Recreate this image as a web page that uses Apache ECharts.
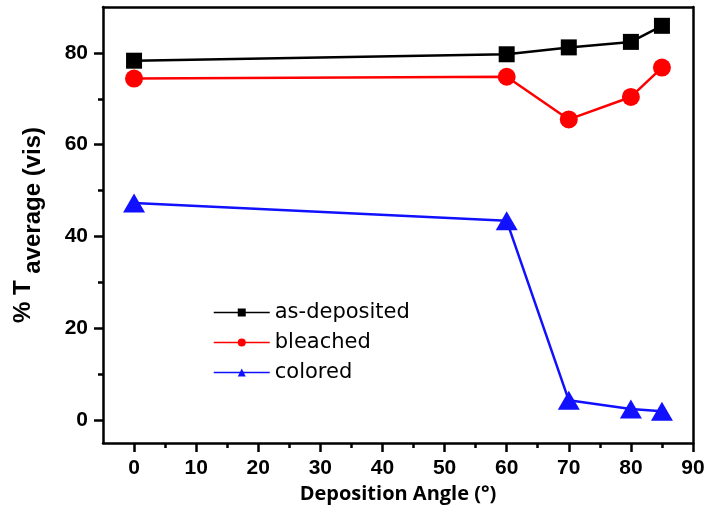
<!DOCTYPE html>
<html>
<head>
<meta charset="utf-8">
<script src="https://cdn.jsdelivr.net/npm/echarts@6/dist/echarts.min.js"></script>
<style>
html,body{margin:0;padding:0;background:#fff;}
#c{width:708px;height:508px;}
</style>
</head>
<body>
<div id="c"></div>
<script>
// Data
const angles = [0, 60, 70, 80, 85];
const asDeposited = [78.3, 79.7, 81.2, 82.4, 85.9];
const bleached = [74.4, 74.8, 65.5, 70.4, 76.8];
const colored = [47.3, 43.4, 4.3, 2.4, 1.9];
const seriesNames = ['as-deposited', 'bleached', 'colored'];
const xMajorTicks = [0, 10, 20, 30, 40, 50, 60, 70, 80, 90];
const xMinorTicks = [5, 15, 25, 35, 45, 55, 65, 75, 85];
const yMajorTicks = [0, 20, 40, 60, 80];
const yMinorTicks = [10, 30, 50, 70];

const pair = (xs, ys) => xs.map((x, i) => [x, ys[i]]);

const AX = '#000';
const LW = 2.5;
const labelFont = { fontFamily: 'Liberation Sans, Arial', fontWeight: 'bold', fontSize: 21, color: '#000' };

const chart = echarts.init(document.getElementById('c'), null, { renderer: 'canvas' });
chart.setOption({
  backgroundColor: '#fff',
  animation: false,
  grid: { left: 103, right: 15, top: 7, bottom: 65, containLabel: false, outerBoundsMode: 'none' },
  legend: {
    data: seriesNames,
    orient: 'vertical',
    left: 208,
    top: 297,
    itemWidth: 56,
    itemHeight: 10,
    itemGap: 9,
    lineStyle: { width: 1.5 },
    textStyle: { fontFamily: 'DejaVu Sans', fontSize: 21, color: '#000', lineHeight: 20 }
  },
  xAxis: [
    {
      type: 'value', position: 'bottom', min: -5, max: 90,
      splitLine: { show: false },
      axisLine: { show: true, onZero: false, lineStyle: { color: AX, width: LW } },
      axisTick: { show: true, length: 9, lineStyle: { color: AX, width: LW }, customValues: xMajorTicks },
      axisLabel: Object.assign({ margin: 15, customValues: xMajorTicks }, labelFont),
      name: 'Deposition Angle (°)',
      nameLocation: 'middle',
      nameGap: 33,
      nameTextStyle: { fontFamily: 'Open Sans', fontWeight: 'bold', fontSize: 20, color: '#000' }
    },
    {
      type: 'value', position: 'bottom', min: -5, max: 90,
      splitLine: { show: false },
      axisLine: { show: false, onZero: false },
      axisTick: { show: true, length: 5, lineStyle: { color: AX, width: LW }, customValues: xMinorTicks },
      axisLabel: { show: false }
    },
    {
      type: 'value', position: 'top', min: -5, max: 90,
      splitLine: { show: false },
      axisLine: { show: true, onZero: false, lineStyle: { color: AX, width: LW } },
      axisTick: { show: false },
      axisLabel: { show: false }
    }
  ],
  yAxis: [
    {
      type: 'value', position: 'left', min: -5, max: 90,
      splitLine: { show: false },
      axisLine: { show: true, onZero: false, lineStyle: { color: AX, width: LW } },
      axisTick: { show: true, length: 9, lineStyle: { color: AX, width: LW }, customValues: yMajorTicks },
      axisLabel: Object.assign({ margin: 15, customValues: yMajorTicks }, labelFont),
      name: '{a|% T }{b|average (vis)}',
      nameLocation: 'middle',
      nameRotate: 90,
      nameGap: 48,
      nameTextStyle: {
        color: '#000',
        rich: {
          a: { fontFamily: 'Liberation Sans, Arial', fontWeight: 'bold', fontSize: 24, color: '#000', verticalAlign: 'top', lineHeight: 24 },
          b: { fontFamily: 'Liberation Sans, Arial', fontWeight: 'bold', fontSize: 24, color: '#000', verticalAlign: 'middle', lineHeight: 44 }
        }
      }
    },
    {
      type: 'value', position: 'left', min: -5, max: 90,
      splitLine: { show: false },
      axisLine: { show: false, onZero: false },
      axisTick: { show: true, length: 5, lineStyle: { color: AX, width: LW }, customValues: yMinorTicks },
      axisLabel: { show: false }
    },
    {
      type: 'value', position: 'right', min: -5, max: 90,
      splitLine: { show: false },
      axisLine: { show: true, onZero: false, lineStyle: { color: AX, width: LW } },
      axisTick: { show: false },
      axisLabel: { show: false }
    }
  ],
  series: [
    {
      name: seriesNames[0], type: 'line', xAxisIndex: 0, yAxisIndex: 0,
      data: pair(angles, asDeposited),
      symbol: 'rect', symbolSize: 16,
      lineStyle: { color: '#000', width: 2.5 },
      itemStyle: { color: '#000' }
    },
    {
      name: seriesNames[1], type: 'line', xAxisIndex: 0, yAxisIndex: 0,
      data: pair(angles, bleached),
      symbol: 'circle', symbolSize: 18,
      lineStyle: { color: '#ff0000', width: 2.5 },
      itemStyle: { color: '#ff0000' }
    },
    {
      name: seriesNames[2], type: 'line', xAxisIndex: 0, yAxisIndex: 0,
      data: pair(angles, colored),
      symbol: 'triangle', symbolSize: [22, 19],
      lineStyle: { color: '#1111ff', width: 2.5 },
      itemStyle: { color: '#1111ff' }
    }
  ]
});
</script>
</body>
</html>
